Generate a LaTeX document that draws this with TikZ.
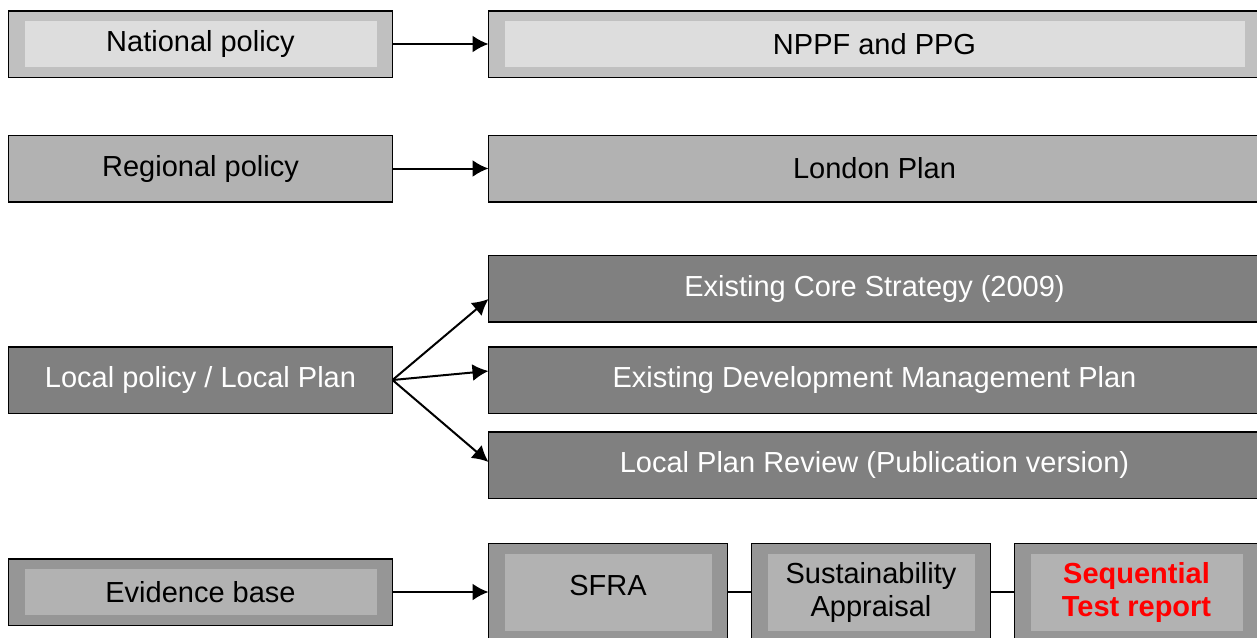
\documentclass[tikz,border=0pt]{standalone}
\usepackage{fontspec}
\setmainfont{Liberation Sans}
\usetikzlibrary{positioning,arrows.meta}
\definecolor{natout}{HTML}{C0C0C0}
\definecolor{natin}{HTML}{DDDDDD}
\definecolor{regfill}{HTML}{B2B2B2}
\definecolor{locfill}{HTML}{808080}
\definecolor{evout}{HTML}{969696}
\definecolor{evin}{HTML}{B2B2B2}
\definecolor{seqred}{HTML}{FF0000}
\tikzset{box/.style={draw=black,line width=0.75pt,inner sep=0pt,outer sep=0pt,align=center,
  font=\fontsize{14.5}{16.5}\selectfont}}
\tikzset{leftbox/.style={box,minimum width=192pt,minimum height=33.25pt}}
\tikzset{rightbox/.style={box,minimum width=386pt,minimum height=33.25pt}}
\tikzset{evbox/.style={box,minimum width=119.5pt,minimum height=48.5pt}}
\tikzset{inset/.style 2 args={fill=#1,path picture={
  \fill[#2] ([shift={(8pt,-5pt)}]path picture bounding box.north west)
    rectangle ([shift={(-8pt,5pt)}]path picture bounding box.south east);}}}
\tikzset{arr/.style={line width=1pt,-{Latex[length=8pt,width=8.5pt]}}}

\begin{document}
\begin{tikzpicture}
\useasboundingbox (0,0) rectangle (628.5pt,-318.5pt);
% left column
\node[leftbox,inset={natout}{natin}] (nat) at (100.25pt,-22pt) {National policy};
\node[leftbox,fill=regfill] (reg) [below=29pt of nat] {Regional policy};
\node[leftbox,fill=locfill,text=white] (loc) [below=72.5pt of reg] {Local policy / Local Plan};
\node[leftbox,inset={evout}{evin}] (evid) [below=72.75pt of loc] {Evidence base};
% right column
\node[rightbox,inset={natout}{natin}] (nppf) [right=48pt of nat] {NPPF and PPG};
\node[rightbox,fill=regfill] (lon) [right=48pt of reg] {London Plan};
\node[rightbox,fill=locfill,text=white] (dmp) [right=48pt of loc] {Existing Development Management Plan};
\node[rightbox,fill=locfill,text=white] (core) [above=12.5pt of dmp] {Existing Core Strategy (2009)};
\node[rightbox,fill=locfill,text=white] (lpr) [below=9.25pt of dmp] {Local Plan Review (Publication version)};
% evidence row
\node[evbox,inset={evout}{evin},text depth=7pt] (sfra) [right=48pt of evid] {SFRA};
\node[evbox,inset={evout}{evin}] (sa) [right=12pt of sfra] {Sustainability\\Appraisal};
\node[evbox,minimum width=122pt,inset={evout}{evin},text=seqred,font=\fontsize{14.5}{16.5}\selectfont\bfseries]
  (seq) [right=12pt of sa] {Sequential\\Test report};
% connectors
\draw[arr] (nat) -- (nppf);
\draw[arr] (reg) -- (lon);
\draw[arr] (loc.east) -- ([yshift=-5.25pt]core.west);
\draw[arr] (loc.east) -- ([yshift=4.5pt]dmp.west);
\draw[arr] (loc.east) -- ([yshift=1.5pt]lpr.west);
\draw[arr] (evid) -- (sfra);
\draw[line width=0.75pt] (sfra) -- (sa);
\draw[line width=0.75pt] (sa) -- (seq);
\end{tikzpicture}
\end{document}
